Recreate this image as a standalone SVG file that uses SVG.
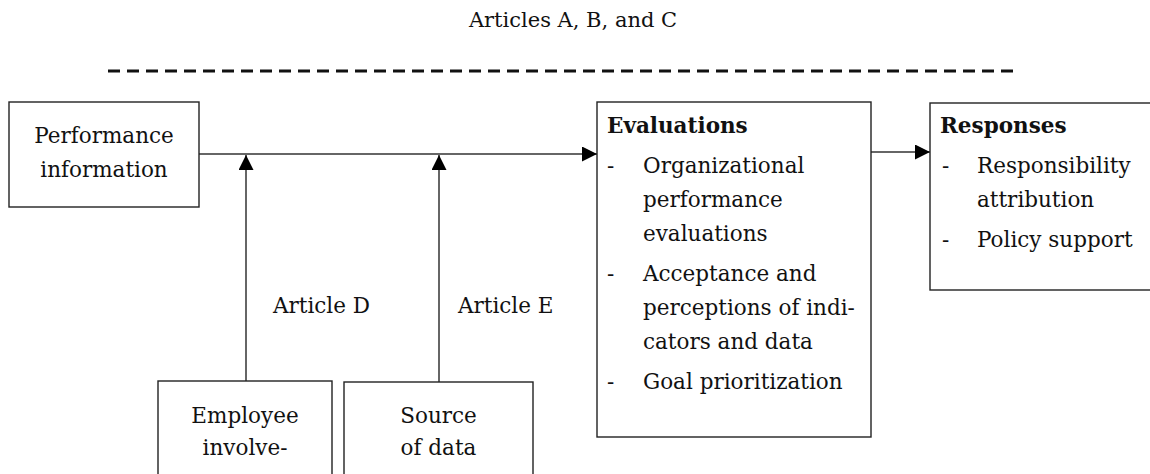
<svg xmlns="http://www.w3.org/2000/svg" width="1150" height="474" viewBox="0 0 1150 474">
<style>
text{font-family:"DejaVu Serif","Liberation Serif",serif;font-size:21.5px;fill:#111}
.c{text-anchor:middle}
.b{font-weight:bold}
.box{fill:#fff;stroke:#222;stroke-width:1.4}
.ln{stroke:#333;stroke-width:1.5;fill:none}
</style>
<defs>
<marker id="ah" markerUnits="userSpaceOnUse" markerWidth="15" markerHeight="15" refX="15" refY="7.5" orient="auto">
<path d="M0,0 L15,7.5 L0,15 z" fill="#000"/>
</marker>
</defs>
<g id="title">
<text class="c" x="573" y="27" style="font-size:21px">Articles A, B, and C</text>
<line x1="108" y1="71" x2="1020" y2="71" stroke="#111" stroke-width="3" stroke-dasharray="12 7"/>
</g>
<g id="connectors">
<line class="ln" x1="199" y1="154" x2="597" y2="154" marker-end="url(#ah)"/>
<line class="ln" x1="246" y1="381" x2="246" y2="155" marker-end="url(#ah)"/>
<line class="ln" x1="439" y1="382" x2="439" y2="155" marker-end="url(#ah)"/>
<line class="ln" x1="871" y1="152" x2="930" y2="152" marker-end="url(#ah)"/>
<text x="273" y="313">Article D</text>
<text x="458" y="313">Article E</text>
</g>
<g id="performance">
<rect class="box" x="9" y="102" width="190" height="105"/>
<text class="c" x="104" y="143">Performance</text>
<text class="c" x="104" y="177">information</text>
</g>
<g id="evaluations">
<rect class="box" x="597" y="102" width="274" height="335"/>
<text class="b" x="607" y="133">Evaluations</text>
<text x="607" y="173">-</text><text x="643" y="173">Organizational</text>
<text x="643" y="207">performance</text>
<text x="643" y="241">evaluations</text>
<text x="607" y="281">-</text><text x="643" y="281">Acceptance and</text>
<text x="643" y="315">perceptions of indi-</text>
<text x="643" y="349">cators and data</text>
<text x="607" y="389">-</text><text x="643" y="389">Goal prioritization</text>
</g>
<g id="responses">
<rect class="box" x="930" y="103" width="230" height="187"/>
<text class="b" x="940" y="133">Responses</text>
<text x="942" y="173">-</text><text x="977" y="173">Responsibility</text>
<text x="977" y="207">attribution</text>
<text x="942" y="247">-</text><text x="977" y="247">Policy support</text>
</g>
<g id="employee">
<rect class="box" x="158" y="381" width="174" height="110"/>
<text class="c" x="245" y="423">Employee</text>
<text class="c" x="245" y="455">involve-</text>
</g>
<g id="source">
<rect class="box" x="344" y="382" width="189" height="110"/>
<text class="c" x="438.5" y="423">Source</text>
<text class="c" x="438.5" y="455">of data</text>
</g>
</svg>
